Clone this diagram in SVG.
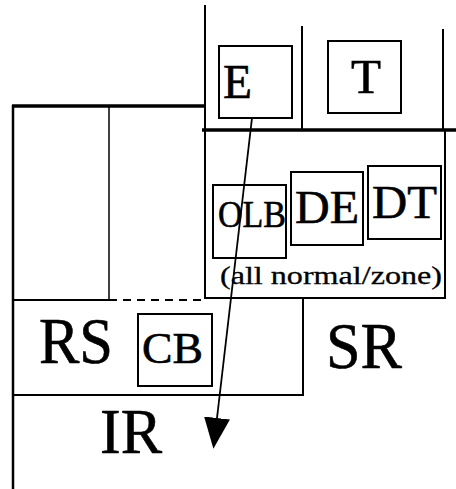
<svg xmlns="http://www.w3.org/2000/svg" width="456" height="489" viewBox="0 0 456 489">
  <defs>
    <style>
      .ln { stroke: #000; stroke-width: 2; fill: none; }
      .thick { stroke: #000; stroke-width: 3.5; fill: none; }
      .box { stroke: #000; stroke-width: 2; fill: none; }
      .t { font-family: "Liberation Serif", "Times New Roman", serif; fill: #000; stroke: #000; stroke-width: 0.6; }
      .s { stroke-width: 0.3; }
    </style>
    <marker id="arr" markerUnits="userSpaceOnUse" markerWidth="34" markerHeight="30" refX="0" refY="13" orient="auto" viewBox="0 0 34 30">
      <path d="M0,0 L31,13 L0,26 Z" fill="#000"/>
    </marker>
  </defs>
  <rect width="456" height="489" fill="#fff"/>

  <g id="frame">
    <line class="ln" x1="205" y1="5" x2="205" y2="299"/>
    <line class="thick" x1="12" y1="106" x2="205" y2="106"/>
    <line class="ln" x1="13" y1="105" x2="13" y2="489" style="stroke-width:2.5"/>
    <line class="ln" x1="109" y1="106" x2="109" y2="300" style="stroke-width:1.5"/>
    <line class="thick" x1="202" y1="130" x2="456" y2="130"/>
    <line class="ln" x1="302" y1="26" x2="302" y2="130"/>
    <line class="ln" x1="443" y1="29" x2="443" y2="130"/>
  </g>

  <g id="zone">
    <line class="ln" x1="445" y1="130" x2="445" y2="299"/>
    <line class="ln" x1="204" y1="298" x2="446" y2="298"/>
    <text class="t s" x="220" y="284" font-size="25" textLength="222" lengthAdjust="spacingAndGlyphs">(all normal/zone)</text>
  </g>

  <g id="RS">
    <line class="ln" x1="13" y1="300" x2="109" y2="300"/>
    <line class="ln" x1="109" y1="300" x2="204" y2="300" stroke-dasharray="8,6"/>
    <line class="ln" x1="303" y1="298" x2="303" y2="396"/>
    <line class="ln" x1="12" y1="395" x2="304" y2="395"/>
    <text class="t" x="39" y="363" font-size="66" textLength="74" lengthAdjust="spacingAndGlyphs">RS</text>
  </g>

  <g id="SR">
    <text class="t" x="326" y="368" font-size="66" textLength="76" lengthAdjust="spacingAndGlyphs">SR</text>
  </g>

  <g id="IR">
    <text class="t" x="100" y="453" font-size="64" textLength="62" lengthAdjust="spacingAndGlyphs">IR</text>
  </g>

  <g id="E">
    <rect class="box" x="219" y="46" width="73" height="72"/>
    <text class="t" x="223" y="98" font-size="48" textLength="29" lengthAdjust="spacingAndGlyphs">E</text>
  </g>

  <g id="T">
    <rect class="box" x="328" y="41" width="73" height="72"/>
    <text class="t" x="351" y="93" font-size="48" textLength="30" lengthAdjust="spacingAndGlyphs">T</text>
  </g>

  <g id="OLB">
    <rect class="box" x="213" y="185" width="73" height="73"/>
    <text class="t" x="218" y="227" font-size="38" textLength="68" lengthAdjust="spacingAndGlyphs">OLB</text>
  </g>

  <g id="DE">
    <rect class="box" x="291" y="172" width="72" height="73"/>
    <text class="t" x="295" y="223" font-size="47" textLength="64" lengthAdjust="spacingAndGlyphs">DE</text>
  </g>

  <g id="DT">
    <rect class="box" x="368" y="166" width="73" height="73"/>
    <text class="t" x="372" y="218" font-size="47" textLength="65" lengthAdjust="spacingAndGlyphs">DT</text>
  </g>

  <g id="CB">
    <rect class="box" x="138" y="314" width="74" height="72"/>
    <text class="t" x="142" y="363" font-size="44" textLength="61" lengthAdjust="spacingAndGlyphs">CB</text>
  </g>

  <g id="connectors">
    <line x1="252" y1="118" x2="217" y2="418" stroke="#000" stroke-width="1.8" marker-end="url(#arr)"/>
  </g>
</svg>
